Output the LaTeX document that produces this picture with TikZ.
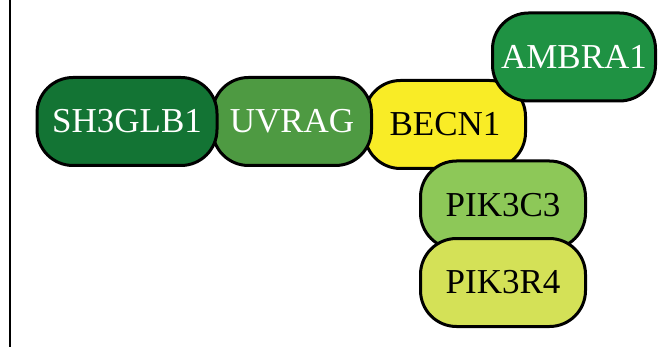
\documentclass[tikz,border=0pt]{standalone}
\usepackage{fontspec}
\setmainfont{Liberation Serif}
\usepackage{xcolor}
\usetikzlibrary{positioning}

\definecolor{sgreen}{HTML}{137434}
\definecolor{ugreen}{HTML}{4E9A42}
\definecolor{agreen}{HTML}{1F9243}
\definecolor{byellow}{HTML}{F9EC26}
\definecolor{cgreen}{HTML}{8DC858}
\definecolor{rgreen}{HTML}{D4E157}

\begin{document}
\begin{tikzpicture}[
  x=1pt, y=-1pt,
  every node/.style={font=\fontsize{35}{40}\selectfont},
  protbox/.style={draw=black, line width=3pt, rounded corners=36pt,
                  minimum height=88pt, inner sep=0pt, align=center},
  frameline/.style={line width=2.6pt, black}
]
\useasboundingbox (0,0) rectangle (663,347);

% ---- Left frame line ----
\coordinate (ftop) at (10,0);
\coordinate (fbot) at (10,347);
\draw[frameline] (ftop) -- (fbot);

% ---- Core complex (drawn back to front) ----
\node[protbox, fill=byellow, text=black, minimum width=161pt] (becn1) at (445,124.5) {BECN1};
\node[protbox, fill=agreen, text=white, minimum width=163pt] (ambra1) at (574,57) {AMBRA1};
\node[protbox, fill=ugreen, text=white, minimum width=159pt] (uvrag) at (292,121.5) {UVRAG};
\node[protbox, fill=sgreen, text=white, minimum width=180pt] (sh3glb1) at (127,121.5) {SH3GLB1};

% ---- Kinase subunits ----
\node[protbox, fill=cgreen, text=black, minimum width=165pt] (pik3c3) at (503,205) {PIK3C3};
\node[protbox, fill=rgreen, text=black, minimum width=165pt] (pik3r4) at (503,282.5) {PIK3R4};

\end{tikzpicture}
\end{document}
